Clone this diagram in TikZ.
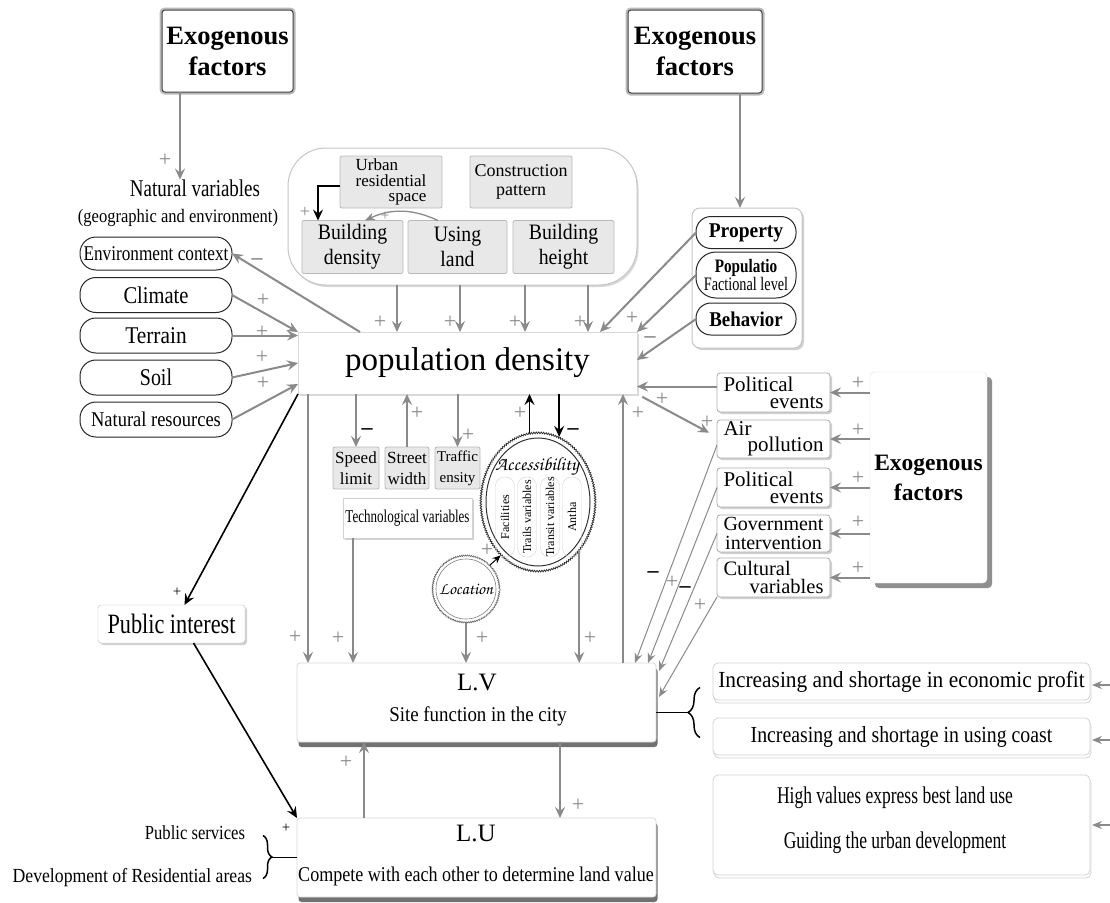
\documentclass[tikz,border=0pt]{standalone}
\usepackage{graphicx}
\usepackage{fontspec}
\setmainfont{Liberation Serif}
\newfontfamily\chorus{texgyrechorus-mediumitalic.otf}
\usetikzlibrary{shapes.geometric,arrows.meta,calc,shadows,decorations.pathmorphing,decorations.pathreplacing}
\definecolor{ag}{HTML}{8A8A8A}
\newcommand\fz[2]{\fontsize{#1}{#2}\selectfont}
\newcommand\sq[2]{\scalebox{#1}[1]{#2}}
\begin{document}
\begin{tikzpicture}[x=1pt,y=-1pt,
 every node/.style={inner sep=0pt,outer sep=0pt},
 garr/.style={draw=ag,line width=2pt,-{Stealth[length=11pt,width=10pt,inset=4pt]}},
 tarr/.style={draw=ag,line width=1pt,-{Stealth[length=10pt,width=8pt,inset=3.5pt]}},
 barr/.style={draw=black,line width=1.8pt,-{Stealth[length=11pt,width=10pt,inset=4pt]}},
 pl/.style={text=ag,font=\fz{22}{22}},
 bpl/.style={text=black,font=\fz{15}{15}},
 mn/.style={text=black,font=\fz{22}{22}\bfseries},
 gmn/.style={text=ag,font=\fz{22}{22}\bfseries},
 pill/.style={draw=black!85,line width=1pt,rounded corners=16pt,minimum width=152pt,fill=white},
 ppill/.style={draw=black!85,line width=1pt,rounded corners=15pt,minimum width=100pt,fill=white,align=center},
 gbox/.style={draw=gray!55,fill=black!9,rounded corners=2pt,line width=0.8pt,align=center},
 shd/.style={drop shadow={shadow xshift=2pt,shadow yshift=-2pt,fill=black!30,opacity=0.6}},
 wbox/.style={draw=gray!45,fill=white,rounded corners=3pt,line width=0.8pt,shd},
 exobox/.style={draw=black!75,line width=1pt,fill=white,rounded corners=3pt,preaction={draw=gray!55,line width=5pt},align=center},
 sbox/.style={wbox,draw=gray!65,minimum width=113pt},
 lbox/.style={draw=gray!30,fill=white,line width=0.8pt,rounded corners=3pt,drop shadow={shadow xshift=1.5pt,shadow yshift=-5pt,fill=black!65,opacity=0.85}},
 rbox/.style={draw=gray!35,fill=white,line width=0.8pt,rounded corners=5pt,minimum width=377pt,copy shadow={shadow xshift=1pt,shadow yshift=-3pt}},
 apill/.style={rotate=90,draw=gray!35,rounded corners=9pt,minimum width=80pt,minimum height=19pt,font=\fz{12}{12}},
]
\fill[white] (0,0) rectangle (1110,902);
\useasboundingbox (0,0) rectangle (1110,902);

% ---------- top left
\node[exobox,minimum width=131pt,minimum height=82pt,font=\fz{26.5}{31}\bfseries] (exoTL) at (227.5,51) {Exogenous\\factors};
\node (nv1) at (195,188) {\fz{24}{24}\sq{0.79}{Natural variables}};
\node (nv2) at (178,218) {\fz{19}{19}\sq{0.87}{(geographic and environment)}};
\node[pill,minimum height=33pt] (env) at (156,253.5) {\fz{21}{21}\sq{0.82}{Environment context}};
\node[pill,minimum height=35pt] (clim) at (156,295) {\fz{24}{24}\sq{0.855}{Climate}};
\node[pill,minimum height=35pt] (terr) at (156,335.5) {\fz{24}{24}\sq{0.89}{Terrain}};
\node[pill,minimum height=35pt] (soil) at (156,377.5) {\fz{24}{24}\sq{0.83}{Soil}};
\node[pill,minimum height=35pt] (natr) at (156,419.5) {\fz{21}{21}\sq{0.88}{Natural resources}};

% ---------- building container
\node[draw=gray!45,line width=1pt,rounded corners=38pt,minimum width=349pt,minimum height=137pt,fill=white,drop shadow={shadow xshift=1.5pt,shadow yshift=-2pt,fill=black!30,opacity=0.5}] (cont) at (462.5,216.5) {};
\node[gbox,minimum width=102pt,minimum height=52pt] (urb) at (391,182) {\fz{17}{15}\begin{tabular}{@{}l@{}}Urban\\residential\\\hfill space\end{tabular}};
\node[gbox,minimum width=102pt,minimum height=52pt,font=\fz{18}{19}] (cons) at (521,182) {Construction\\pattern};
\node[gbox,minimum width=101pt,minimum height=53pt,font=\fz{22}{25}] (bden) at (352.5,247) {\sq{0.9}{Building}\\\sq{0.9}{density}};
\node[gbox,minimum width=99pt,minimum height=53pt,font=\fz{22}{25}] (usel) at (457.5,247) {\sq{0.9}{Using}\\\sq{0.9}{land}};
\node[gbox,minimum width=101pt,minimum height=53pt,font=\fz{22}{25}] (bhei) at (563.5,247) {\sq{0.9}{Building}\\\sq{0.9}{height}};

% ---------- population density
\node[draw=gray!30,fill=white,minimum width=339pt,minimum height=62pt,drop shadow={shadow xshift=2pt,shadow yshift=-2pt,fill=black!25,opacity=0.6}] (pop) at (467.5,363) {\fz{33}{33}population density};

% ---------- top right
\node[exobox,minimum width=134pt,minimum height=83pt,font=\fz{26.5}{31}\bfseries] (exoTR) at (695,51.5) {Exogenous\\factors};
\node[draw=gray!45,line width=1pt,rounded corners=8pt,minimum width=110pt,minimum height=140pt,fill=white,shd] (grp) at (747,278) {};
\node[ppill,minimum height=32pt] (prop) at (746,232.5) {\fz{21}{21}\bfseries\sq{0.93}{Property}};
\node[ppill,minimum height=46pt,rounded corners=20pt,font=\fz{19}{15}] (popl) at (746,275) {\textbf{\sq{0.8}{Populatio}}\\\sq{0.75}{Factional level}};
\node[ppill,minimum height=32pt] (behav) at (746,319) {\fz{21}{21}\bfseries\sq{0.9}{Behavior}};

% ---------- right exogenous
\node[sbox,minimum height=39pt] (pol1) at (773.5,392.5) {\parbox{100pt}{\fz{21}{17}Political\\\mbox{}\hfill events}};
\node[sbox,minimum height=38pt] (air) at (773.5,439) {\parbox{100pt}{\fz{21}{14}Air\\\mbox{}\hfill pollution}};
\node[sbox,minimum height=39pt] (pol2) at (773.5,487.5) {\parbox{100pt}{\fz{21}{17}Political\\\mbox{}\hfill events}};
\node[sbox,minimum height=37pt,align=center,font=\fz{20}{18.5}] (gov) at (773.5,533.5) {Government\\intervention};
\node[sbox,minimum height=39pt] (cult) at (773.5,577.5) {\parbox{100pt}{\fz{20.5}{18.5}Cultural\\\mbox{}\hfill variables}};
\node[draw=gray!25,fill=white,rounded corners=4pt,minimum width=117pt,minimum height=211pt,align=center,font=\fz{23.5}{30}\bfseries,drop shadow={shadow xshift=5pt,shadow yshift=-5pt,fill=black!55,opacity=0.8}] (exoR) at (928.5,477.5) {Exogenous\\factors};

% ---------- transport variables
\node[gbox,minimum width=46pt,minimum height=42pt,font=\fz{17}{21}] (speed) at (356,468) {Speed\\limit};
\node[gbox,minimum width=44pt,minimum height=42pt,font=\fz{17}{21}] (street) at (407,468) {Street\\width};
\node[gbox,minimum width=45pt,minimum height=42pt,font=\fz{15}{21}] (traf) at (457.5,468) {Traffic\\ensity};
\node[draw=gray!35,fill=white,minimum width=129pt,minimum height=40pt,shd] (tech) at (407.5,518) {\fz{18}{18}\sq{0.725}{Technological variables}};

% ---------- accessibility / location
\node[ellipse,draw=black!80,line width=0.8pt,fill=white,minimum width=116pt,minimum height=140pt,decorate,decoration={bumps,segment length=5pt,amplitude=1.6pt}] (access) at (538,502) {};
\node[ellipse,draw=black!80,line width=1pt,minimum width=104pt,minimum height=128pt] (accin) at (538,502) {};
\node (acct) at (537,466) {\chorus\fz{19}{19}Accessibility};
\node[apill] (ap1) at (505,517) {Facilities};
\node[apill] (ap2) at (527,517) {Trails variables};
\node[apill] (ap3) at (550,517) {Transit variables};
\node[apill] (ap4) at (572,517) {Antha};
\node[circle,draw=black!60,line width=0.6pt,fill=white,minimum size=68pt,decorate,decoration={bumps,segment length=4pt,amplitude=1.2pt}] (loc) at (466,589) {};
\node[circle,draw=black!50,line width=0.6pt,minimum size=60pt] (locin) at (466,589) {\chorus\fz{17}{17}Location};

% ---------- public interest, LV, LU
\node[draw=gray!50,fill=white,rounded corners=3pt,minimum width=147pt,minimum height=38pt,shd] (pubi) at (171.5,624) {\fz{28}{28}\sq{0.795}{Public interest}};
\node[lbox,minimum width=359pt,minimum height=79pt] (lv) at (476.5,702.5) {};
\node (lvt1) at (477,682) {\fz{25}{25}L.V};
\node (lvt2) at (478,716) {\fz{21}{21}\sq{0.9}{Site function in the city}};
\node[lbox,minimum width=359pt,minimum height=79pt] (lu) at (476.5,857.5) {};
\node (lut1) at (476,833) {\fz{25}{25}L.U};
\node (lut2) at (476,876) {\fz{21}{21}\sq{0.86}{Compete with each other to determine land value}};
\node[anchor=east] (ps) at (245,833) {\fz{20}{20}\sq{0.83}{Public services}};
\node[anchor=east] (dev) at (252,878) {\fz{20}{20}\sq{0.885}{Development of Residential areas}};

% ---------- right result boxes
\node[rbox,minimum height=37pt] (rb1) at (901.5,681.5) {\fz{23}{23}\sq{0.93}{Increasing and shortage in economic profit}};
\node[rbox,minimum height=37pt] (rb2) at (901.5,736.5) {\fz{23}{23}\sq{0.86}{Increasing and shortage in using coast}};
\node[rbox,minimum height=100pt] (rb3) at (901.5,825) {};
\node (rb3a) at (895,798) {\fz{24}{24}\sq{0.73}{High values express best land use}};
\node (rb3b) at (895,843) {\fz{24}{24}\sq{0.73}{Guiding the urban development}};

% ================= connectors
\coordinate (e1) at ($(exoTL.south)+(-47.5,0)$);
\draw[garr] (e1) -- (e1 |- nv1.north);
\draw[garr] (clim.east) -- (pop.north west);
\draw[garr] (terr.east) -- (terr.east -| pop.west);
\draw[garr] (soil.east) -- (pop.west);
\coordinate (pw4) at ($(pop.south west)+(0,-10)$);
\draw[garr] (natr.east) -- (pw4);
\coordinate (pn1) at ($(pop.north west)+(62,0)$);
\draw[garr] (pn1) -- (env.east);

\foreach \dx/\n in {109/1,172/2,237/3,300/4}{
  \coordinate (c\n) at ($(cont.south west)+(\dx,0)$);
  \draw[garr] (c\n) -- (c\n |- pop.north);
}
\coordinate (ub) at ($(urb.west)+(0,4)$);
\coordinate (bd) at ($(bden.north west)+(16,0)$);
\draw[barr,line width=1.6pt] (ub) -| (bd);
\draw[tarr,line width=1.3pt] ($(usel.north west)+(30,0)$) to[bend right=25] ($(bden.north east)+(-38,0)$);

\coordinate (e2) at ($(exoTR.south)+(45,0)$);
\draw[garr] (e2) -- (e2 |- grp.north);
\coordinate (pn2) at ($(pop.north east)+(-37,0)$);
\draw[garr] (prop.west) -- (pn2);
\draw[garr] (popl.west) -- (pop.north east);
\coordinate (pe2) at ($(pop.north east)+(0,28)$);
\draw[garr] (behav.west) -- (pe2);

\coordinate (q1) at ($(pol1.west)+(0,-6)$);
\draw[garr] (q1) -- (q1 -| pop.east);
\draw[garr,shorten <=6pt,shorten >=9pt] (pop.south east) -- ($(air.west)+(0,-2)$);
\foreach \b in {pol1,air,pol2,gov,cult}{
  \draw[garr] (exoR.west |- \b.east) -- (\b.east);
}
\draw[tarr] ($(air.west)+(0,6)$) -- ($(lv.north east)+(-21,0)$);
\draw[tarr] (pol2.west) -- ($(lv.north east)+(-8,0)$);
\draw[tarr] (gov.west) -- ($(lv.north east)+(3,8)$);
\draw[tarr] (cult.south west) -- ($(lv.north east)+(3,34)$);
\coordinate (v1) at ($(lv.north east)+(-33,0)$);
\draw[garr] (v1) -- (v1 |- pop.south);

\coordinate (p1) at ($(pop.south west)+(10,0)$);
\draw[garr] (p1) -- (p1 |- lv.north);
\draw[garr] (speed.north |- pop.south) -- (speed.north);
\draw[garr] (street.north) -- (street.north |- pop.south);
\draw[garr] (traf.north |- pop.south) -- (traf.north);
\coordinate (t1) at ($(tech.south west)+(10,0)$);
\draw[garr] (t1) -- (t1 |- lv.north);
\draw[barr] (access.97) -- (access.97 |- pop.south);
\draw[barr] (access.72 |- pop.south) -- (access.72);
\draw[garr] (access.310) -- (access.310 |- lv.north);
\draw[black,line width=1pt,-{Stealth[length=8pt,width=7pt]}] (loc.45) -- (access.235);
\draw[garr] (loc.south) -- (loc.south |- lv.north);

\draw[barr,line width=1.6pt] (pop.south west) -- ($(pubi.north)+(13,0)$);
\draw[barr,line width=1.6pt] ($(pubi.south)+(22,0)$) -- (lu.north west);
\coordinate (u1) at ($(lu.north west)+(67,0)$);
\draw[garr] (u1) -- (u1 |- lv.south);
\coordinate (u2) at ($(lv.south west)+(263,0)$);
\draw[garr] (u2) -- (u2 |- lu.north);

\coordinate (br) at ($(lv.east)+(32,10)$);
\draw[line width=1.5pt] ($(lv.east)+(0,10)$) -- (br);
\draw[decorate,decoration={brace,amplitude=12pt},line width=1.5pt] ($(br)+(12,25)$) -- ($(br)+(12,-25)$);
\coordinate (bl) at ($(lu.west)+(-25,0)$);
\draw[line width=1.5pt] (bl) -- (lu.west);
\draw[decorate,decoration={brace,amplitude=9pt},line width=1.5pt] ($(bl)+(-9,-22)$) -- ($(bl)+(-9,21)$);

\coordinate (r1) at ($(rb1.east)+(20,3.5)$);
\draw[tarr,line width=1.5pt] (r1) -- ($(rb1.east)+(2,3.5)$);
\coordinate (r2) at ($(rb2.east)+(20,3.5)$);
\draw[tarr,line width=1.5pt] (r2) -- ($(rb2.east)+(2,3.5)$);
\coordinate (r3) at ($(rb3.east)+(20,0)$);
\draw[tarr,line width=1.5pt] (r3) -- ($(rb3.east)+(2,0)$);

% ================= signs
\node[pl] (s1) at (165,160) {+};
\node[pl,font=\fz{18}{18}] (s2) at (305,212) {+};
\node[pl,font=\fz{15}{15}] (s3) at (385,216) {+};
\node[gmn] (s4) at (257,262) {–};
\node[pl] (s5) at (263,300) {+};
\node[pl] (s6) at (262,332) {+};
\node[pl] (s7) at (262,357) {+};
\node[pl] (s8) at (263,383) {+};
\node[pl] (s9) at (380,322) {+};
\node[pl] (s10) at (450,322) {+};
\node[pl] (s11) at (515,322) {+};
\node[pl] (s12) at (580,322) {+};
\node[pl] (s13) at (632,318) {+};
\node[gmn] (s14) at (650,340) {–};
\node[pl] (s15) at (662,399) {+};
\node[pl] (s16) at (707,422) {+};
\node[pl] (s17) at (638,413) {+};
\node[pl] (s18) at (858,383) {+};
\node[pl] (s19) at (858,430) {+};
\node[pl] (s20) at (858,478) {+};
\node[pl] (s21) at (858,522) {+};
\node[pl] (s22) at (858,568) {+};
\node[mn] (s23) at (367,432) {–};
\node[pl] (s24) at (417,413) {+};
\node[pl] (s25) at (468,435) {+};
\node[pl] (s26) at (520,413) {+};
\node[mn] (s27) at (573,432) {–};
\node[pl] (s28) at (487,550) {+};
\node[pl] (s29) at (295,637) {+};
\node[pl] (s30) at (338,638) {+};
\node[pl] (s31) at (482,638) {+};
\node[pl] (s32) at (590,638) {+};
\node[mn] (s33) at (653,575) {–};
\node[pl] (s34) at (672,582) {+};
\node[mn] (s35) at (685,590) {–};
\node[pl] (s36) at (700,605) {+};
\node[bpl] (s37) at (177,592) {+};
\node[bpl] (s38) at (286,828) {+};
\node[pl] (s39) at (346,762) {+};
\node[pl] (s40) at (578,805) {+};
\end{tikzpicture}
\end{document}
